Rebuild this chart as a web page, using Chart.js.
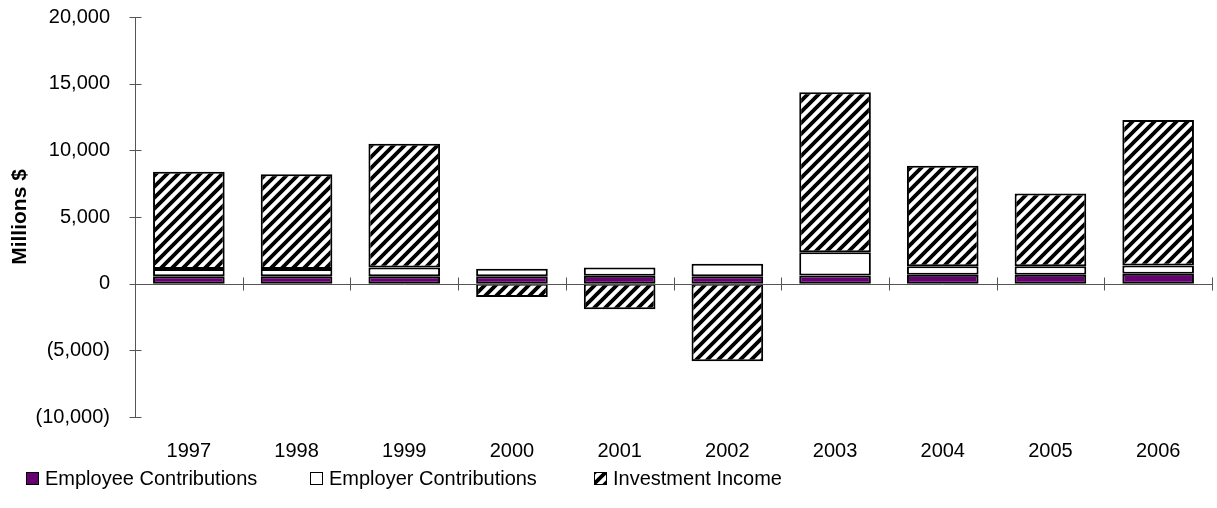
<!DOCTYPE html>
<html>
<head>
<meta charset="utf-8">
<script src="https://cdn.jsdelivr.net/npm/chart.js@4/dist/chart.umd.min.js"></script>
<style>
	body { margin: 0; background: #fff; }
	canvas { display: block; }
</style>
</head>
<body>
<canvas id="fundChart" width="1217" height="508"></canvas>
<script>
// Chart data (millions $)
const years = ['1997', '1998', '1999', '2000', '2001', '2002', '2003', '2004', '2005', '2006'];
const employeeContributions = [550, 550, 550, 550, 600, 550, 620, 670, 670, 750];
const employerContributions = [550, 550, 670, 570, 610, 950, 1730, 630, 630, 620];
const investmentIncome = [7290, 7110, 9270, -1000, -1920, -5820, 12010, 7540, 5470, 10910];
const yTicks = [-10000, -5000, 0, 5000, 10000, 15000, 20000];

const FONT = 'Liberation Sans, Arial, Helvetica, sans-serif';
const FONT_SIZE = 20;
const AXIS_COLOR = '#555';

// Diagonal "/" hatch used for the investment income segments
const makeHatch = () => {
	const size = 11;
	const c = document.createElement('canvas');
	c.width = size;
	c.height = size;
	const g = c.getContext('2d');
	g.fillStyle = '#fff';
	g.fillRect(0, 0, size, size);
	g.strokeStyle = '#000';
	g.lineWidth = 3.8;
	g.beginPath();
	g.moveTo(-2, size + 2);
	g.lineTo(size + 2, -2);
	g.moveTo(-2, 2);
	g.lineTo(2, -2);
	g.moveTo(size - 2, size + 2);
	g.lineTo(size + 2, size - 2);
	g.stroke();
	return g.createPattern(c, 'repeat');
};

const formatTick = (v) => {
	const s = Math.abs(v).toLocaleString('en-US');
	return v < 0 ? `(${s})` : s;
};

// Axis lines with ticks that cross the axis, plus the legend row at the bottom
const axesAndLegend = {
	id: 'axesAndLegend',
	afterDatasetsDraw(chart) {
		const {ctx, chartArea, scales} = chart;
		const x = scales.x;
		const y = scales.y;
		const zero = Math.round(y.getPixelForValue(0)) + 0.5;
		const left = Math.round(chartArea.left) + 0.5;
		ctx.save();
		ctx.strokeStyle = AXIS_COLOR;
		ctx.lineWidth = 1;
		ctx.beginPath();
		ctx.moveTo(left, chartArea.top);
		ctx.lineTo(left, chartArea.bottom);
		yTicks.forEach((v) => {
			const py = Math.round(y.getPixelForValue(v)) + 0.5;
			ctx.moveTo(left - 6, py);
			ctx.lineTo(left + 6, py);
		});
		ctx.moveTo(chartArea.left, zero);
		ctx.lineTo(chartArea.right, zero);
		const step = x.getPixelForValue(1) - x.getPixelForValue(0);
		for (let i = 1; i <= years.length; i++) {
			const px = Math.round(x.getPixelForValue(i) - step / 2) + 0.5;
			ctx.moveTo(px, zero - 7);
			ctx.lineTo(px, zero + 6);
		}
		ctx.stroke();
		ctx.restore();
	},
	afterDraw(chart) {
		const {ctx} = chart;
		ctx.save();
		ctx.font = `${FONT_SIZE}px ${FONT}`;
		ctx.textBaseline = 'middle';
		chart.data.datasets.forEach((ds, i) => {
			const bx = 26 + i * 284;
			const by = 472;
			ctx.fillStyle = ds.backgroundColor;
			ctx.fillRect(bx, by, 13, 13);
			ctx.strokeStyle = '#000';
			ctx.lineWidth = 1;
			ctx.strokeRect(bx + 0.5, by + 0.5, 12, 12);
			ctx.fillStyle = '#000';
			ctx.fillText(ds.label, bx + 19, by + 7);
		});
		ctx.restore();
	},
};

const barStyle = {
	borderColor: '#000',
	borderWidth: 2,
	borderSkipped: false,
	barPercentage: 0.665,
	categoryPercentage: 1,
};

new Chart(document.getElementById('fundChart'), {
	type: 'bar',
	data: {
		labels: years,
		datasets: [
			{label: 'Employee Contributions', data: employeeContributions, backgroundColor: '#650070', ...barStyle},
			{label: 'Employer Contributions', data: employerContributions, backgroundColor: '#ffffff', ...barStyle},
			{label: 'Investment Income', data: investmentIncome, backgroundColor: makeHatch(), ...barStyle},
		],
	},
	options: {
		responsive: false,
		devicePixelRatio: 1,
		animation: false,
		layout: {padding: {top: 0, right: 5, left: 0, bottom: 0}},
		plugins: {
			legend: {display: false},
			tooltip: {enabled: false},
		},
		scales: {
			x: {
				stacked: true,
				grid: {display: false, drawTicks: false},
				border: {display: false},
				ticks: {color: '#000', font: {family: FONT, size: FONT_SIZE}, padding: 22},
				afterFit: (s) => { s.height = 91; },
			},
			y: {
				stacked: true,
				min: -10000,
				max: 20000,
				afterBuildTicks: (s) => { s.ticks = yTicks.map((v) => ({value: v})); },
				grid: {display: false, drawTicks: false},
				border: {display: false},
				ticks: {color: '#000', font: {family: FONT, size: FONT_SIZE}, padding: 25, callback: formatTick},
				title: {
					display: true,
					text: 'Millions $',
					color: '#000',
					font: {family: FONT, size: 21, weight: 'bold'},
					padding: {top: 8, bottom: 0},
				},
				afterFit: (s) => {
					s.width = 135;
					s.paddingTop = 17;
					s.paddingBottom = 0;
				},
			},
		},
	},
	plugins: [axesAndLegend],
});
</script>
</body>
</html>
